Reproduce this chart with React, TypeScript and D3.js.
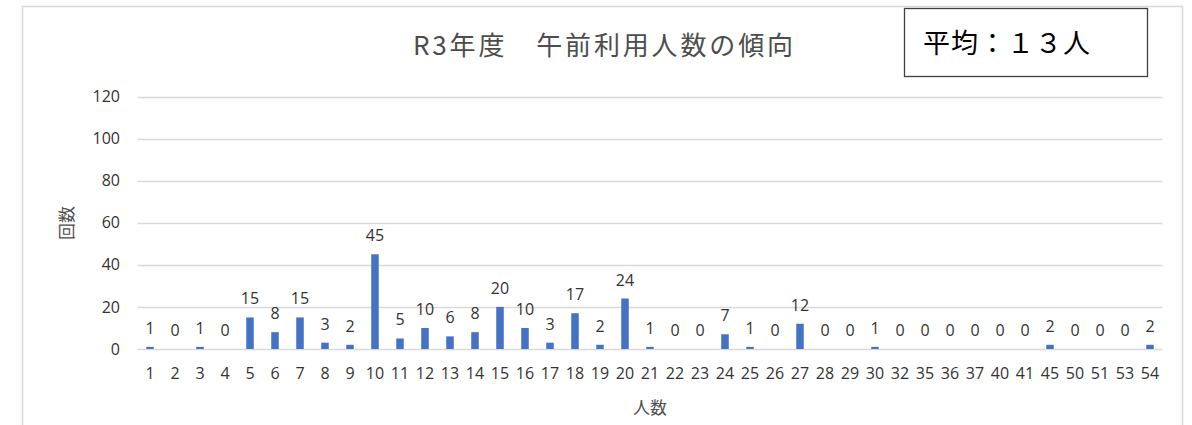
import React from "react";
import * as d3 from "d3";

const categories = ["1","2","3","4","5","6","7","8","9","10","11","12","13","14","15","16","17","18","19","20","21","22","23","24","25","26","27","28","29","30","32","35","36","37","40","41","45","50","51","53","54"];
const counts = [1,0,1,0,15,8,15,3,2,45,5,10,6,8,20,10,3,17,2,24,1,0,0,7,1,0,12,0,0,1,0,0,0,0,0,0,2,0,0,0,2];
const yTicks = [0, 20, 40, 60, 80, 100, 120];
const titleText = "R3年度　午前利用人数の傾向";
const averageText = "平均：１３人";
const xTitle = "人数";
const yTitle = "回数";

const W = 1192;
const H = 425;
const left = 137.5;
const right = 1162.5;
const top = 96.5;
const bottom = 349;
const numFont = "'Open Sans', 'Liberation Sans', sans-serif";
const jpFont = "'Noto Sans CJK JP', sans-serif";

export default function App() {
  const x = d3.scaleBand<string>().domain(categories).range([left, right]).paddingInner(0.7).paddingOuter(0.35);
  const y = d3.scaleLinear().domain([0, 120]).range([bottom, top]);
  const bw = x.bandwidth();
  return (
    <div style={{ position: "absolute", left: 0, top: 0 }}>
      <svg width={W} height={H} style={{ display: "block", background: "#fff" }}>
        <rect x={22.5} y={6.5} width={1160} height={440} fill="#fff" stroke="#d9d9d9" strokeWidth={1.5} />
        {yTicks.map((t) => (
          <g key={t}>
            <line x1={left} x2={right} y1={Math.round(y(t)) + 0.5} y2={Math.round(y(t)) + 0.5} stroke="#d9d9d9" strokeWidth={1.5} />
            <text x={120} y={y(t)} dy="0.35em" textAnchor="end" fontFamily={numFont} fontSize={16} fill="#333">{t}</text>
          </g>
        ))}
        {categories.map((c, i) => {
          const v = counts[i];
          const cx = (x(c) as number) + bw / 2;
          return (
            <g key={c}>
              {v > 0 && (
                <rect x={x(c)} y={y(v)} width={bw} height={y(0) - y(v)} fill="#4472C4" />
              )}
              <text x={cx} y={y(v) - 13} textAnchor="middle" fontFamily={numFont} fontSize={16} fill="#333">{v}</text>
              <text x={cx} y={379} textAnchor="middle" fontFamily={numFont} fontSize={16} fill="#333">{c}</text>
            </g>
          );
        })}
        <text x={603} y={55} textAnchor="middle" fontFamily={jpFont} fontSize={26} fill="#4d4d4d" textLength={380} lengthAdjust="spacing">{titleText}</text>
        <rect x={904.5} y={8.5} width={243} height={68} fill="#fff" stroke="#404040" strokeWidth={1.3} />
        <text x={923} y={53} fontFamily={jpFont} fontSize={27} fill="#000" textLength={167} lengthAdjust="spacing">{averageText}</text>
        <text x={650} y={414} textAnchor="middle" fontFamily={jpFont} fontSize={17} fill="#4d4d4d">{xTitle}</text>
        <text transform={`translate(73,223) rotate(-90)`} textAnchor="middle" fontFamily={jpFont} fontSize={17} fill="#4d4d4d">{yTitle}</text>
      </svg>
    </div>
  );
}
